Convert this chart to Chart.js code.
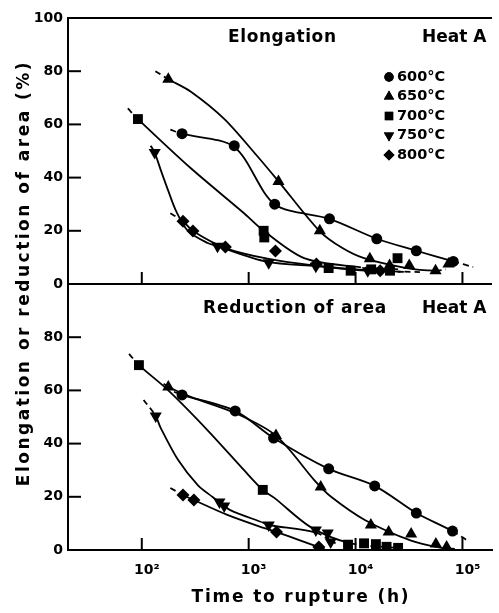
<!DOCTYPE html>
<html>
<head>
<meta charset="utf-8">
<script src="https://cdn.jsdelivr.net/npm/chart.js"></script>
<style>
  html, body { margin: 0; padding: 0; background: #fff; }
  canvas { display: block; }
</style>
</head>
<body>
<canvas id="ruptureChart" width="499" height="613"></canvas>
<script>
// temperatures (legend order)
const temps = ['600°C', '650°C', '700°C', '750°C', '800°C'];

// x axis ticks (time to rupture, h)
const xTicks = [100, 1000, 10000, 100000];
const xTickText = ['10²', '10³', '10⁴', '10⁵'];

// ---- Elongation (%) : measured points [hours, %]
const elong600 = [[238, 56.5], [733, 52], [1750, 30], [5700, 24.5], [15800, 17], [37000, 12.5], [82000, 8.5]];
const elong650 = [[177, 77], [1900, 38.5], [4630, 20], [13600, 9.5], [20800, 7], [31800, 7], [56000, 5], [74000, 7.5]];
const elong700 = [[92, 62], [1380, 20], [1400, 17.5], [5600, 6], [9000, 5], [14000, 5.5], [21000, 5], [24700, 9.7]];
const elong750 = [[132, 49.4], [511, 14.2], [1540, 8], [4250, 6.7], [13000, 5]];
const elong800 = [[243, 23.6], [301, 19.9], [605, 13.9], [1780, 12.4], [4300, 7.5], [17000, 5]];

// ---- Elongation : fitted curves
const elongFit600 = [[185, 58], [238, 56.5], [733, 51.5], [1750, 30], [5700, 24.5], [15800, 17], [37000, 12.5], [82000, 8.5], [126000, 6.4]];
const elongFit650 = [[134, 80], [177, 77], [288, 72.3], [593, 62], [1190, 48.3], [1900, 38.6], [4630, 19.8], [7540, 13.5], [12000, 9.7], [30000, 6], [56000, 5], [70000, 5.5]];
const elongFit700 = [[74, 66], [92, 62], [288, 43.5], [905, 26.6], [1380, 20], [3300, 9.7], [9900, 6.5], [25000, 5.5]];
const elongFit750 = [[121, 52], [132, 49.4], [150, 43], [177, 35], [210, 27.3], [270, 20], [413, 15.4], [511, 14.2], [1470, 8.4], [4250, 6.7], [13000, 5], [30000, 4.5]];
const elongFit800 = [[185, 26.6], [243, 23.6], [301, 19.9], [605, 13.5], [1500, 9.5], [4000, 7], [15000, 5], [40000, 4.5]];

// ---- Reduction of area (%) : measured points
const ra600 = [[238, 58.3], [748, 52.3], [1710, 42.1], [5600, 30.5], [15100, 24.1], [37000, 13.9], [80700, 7.1]];
const ra650 = [[177, 61.3], [1800, 43], [4720, 23.7], [13900, 9.4], [20400, 6.8], [33100, 6], [56400, 2.3], [71100, 1.1]];
const ra700 = [[94, 69.5], [1355, 22.6], [8500, 2], [12000, 2.5], [15500, 2.2], [19500, 1.2], [25000, 0.8]];
const ra750 = [[135, 50.4], [533, 18], [590, 16.5], [1540, 9.4], [4250, 7.5], [5490, 6.4], [5850, 3]];
const ra800 = [[243, 20.7], [307, 18.8], [1820, 6.8], [4530, 1.1]];

// ---- Reduction of area : fitted curves
const raFit600 = [[200, 59.5], [238, 58.3], [748, 52.3], [1710, 42.1], [5600, 30.5], [15100, 24.1], [37000, 13.9], [80700, 7.1], [109000, 3.8]];
const raFit650 = [[160, 62.5], [177, 61.3], [290, 57.5], [748, 51.5], [1800, 43], [4250, 25.6], [5900, 20], [12200, 11.3], [33100, 3.5], [60000, 1], [90000, 0.3]];
const raFit700 = [[76, 73.7], [94, 69.5], [177, 60], [413, 45], [905, 30], [1355, 22.6], [1750, 19.5], [3800, 8.6], [9000, 2.5], [25000, 0.8]];
const raFit750 = [[104, 56.4], [135, 50.4], [149, 46.2], [219, 33.8], [334, 24.4], [460, 19.9], [533, 18], [673, 15], [1380, 10.2], [1540, 9.4], [4250, 6.5], [6500, 2.5]];
const raFit800 = [[185, 23.3], [243, 20.7], [307, 18.8], [632, 13.2], [1380, 8.3], [1820, 6.8], [4530, 1.1], [5500, 0.3]];

const elongPts = [elong600, elong650, elong700, elong750, elong800];
const elongFits = [elongFit600, elongFit650, elongFit700, elongFit750, elongFit800];
const raPts = [ra600, ra650, ra700, ra750, ra800];
const raFits = [raFit600, raFit650, raFit700, raFit750, raFit800];

// marker looks per temperature
const markers = [
    { pointStyle: 'circle', radius: 5.5, rotation: 0 },
    { pointStyle: 'triangle', radius: 7, rotation: 0 },
    { pointStyle: 'rect', radius: 7, rotation: 0 },
    { pointStyle: 'triangle', radius: 7, rotation: 180 },
    { pointStyle: 'rectRot', radius: 6.5, rotation: 0 }
];

// top panel sits on the 100..200 part of the y scale
const TOP = 100;
const toXY = (pairs, off) => pairs.map(p => ({ x: p[0], y: p[1] + off }));

function curveSet(pairs, off) {
    const last = pairs.length - 2;
    return {
        data: toXY(pairs, off),
        showLine: true,
        borderColor: '#000',
        borderWidth: 1.8,
        pointRadius: 0,
        tension: 0.3,
        segment: {
            borderDash: ctx => (ctx.p0DataIndex === 0 || ctx.p0DataIndex === last) ? [6, 4] : undefined
        },
        order: 2
    };
}

function markerSet(pairs, off, i) {
    return {
        label: temps[i],
        data: toXY(pairs, off),
        showLine: false,
        pointStyle: markers[i].pointStyle,
        pointRadius: markers[i].radius,
        pointRotation: markers[i].rotation,
        pointBackgroundColor: '#000',
        pointBorderColor: '#000',
        pointBorderWidth: 0,
        order: 1
    };
}

const datasets = [];
temps.forEach((t, i) => {
    datasets.push(curveSet(elongFits[i], TOP));
    datasets.push(curveSet(raFits[i], 0));
});
temps.forEach((t, i) => {
    datasets.push(markerSet(elongPts[i], TOP, i));
    datasets.push(markerSet(raPts[i], 0, i));
});

const FONT = 'DejaVu Sans';

//plugins
const paperText = {
    id: 'paperText',
    afterDraw(chart) {
        const { ctx, chartArea: { left }, scales: { x, y } } = chart;
        ctx.save();
        ctx.strokeStyle = '#000';
        ctx.fillStyle = '#000';
        ctx.lineWidth = 2;

        // inward ticks
        for (let v = 0; v <= 200; v += 20) {
            const py = y.getPixelForValue(v);
            ctx.beginPath();
            ctx.moveTo(left, py);
            ctx.lineTo(left + 13, py);
            ctx.stroke();
        }
        xTicks.forEach(v => {
            const px = x.getPixelForValue(v);
            [0, TOP].forEach(b => {
                const py = y.getPixelForValue(b);
                ctx.beginPath();
                ctx.moveTo(px, py);
                ctx.lineTo(px, py - 12);
                ctx.stroke();
            });
        });

        // panel headings
        ctx.textBaseline = 'middle';
        ctx.textAlign = 'left';
        ctx.font = 'bold 17px "' + FONT + '"';
        ctx.letterSpacing = '0.6px';
        ctx.fillText('Elongation', 228, 38);
        ctx.letterSpacing = '0.8px';
        ctx.fillText('Reduction of area', 203, 309);
        ctx.letterSpacing = '0px';
        ctx.fillText('Heat A', 422, 38);
        ctx.fillText('Heat A', 422, 309);

        // legend
        ctx.font = 'bold 14.5px "' + FONT + '"';
        temps.forEach((t, i) => {
            const ly = 77 + i * 19.5;
            Chart.helpers.drawPoint(ctx, {
                pointStyle: markers[i].pointStyle,
                radius: markers[i].radius * 0.85,
                rotation: markers[i].rotation,
                borderWidth: 0
            }, 389, ly);
            ctx.fill();
            ctx.fillText(t, 397, ly);
        });

        // axis titles
        ctx.font = 'bold 17px "' + FONT + '"';
        ctx.textAlign = 'center';
        ctx.letterSpacing = '1.8px';
        ctx.fillText('Time to rupture (h)', 301, 598);
        ctx.save();
        ctx.translate(25, 273);
        ctx.rotate(-Math.PI / 2);
        ctx.letterSpacing = '2.5px';
        ctx.fillText('Elongation or reduction of area (%)', 0, 0);
        ctx.restore();
        ctx.restore();
    }
};

// config
const config = {
    type: 'scatter',
    data: { datasets: datasets },
    options: {
        responsive: false,
        animation: false,
        layout: {
            padding: { top: 18, right: 0, left: 0, bottom: 0 }
        },
        plugins: {
            legend: { display: false },
            tooltip: { enabled: false }
        },
        scales: {
            x: {
                type: 'logarithmic',
                min: 20.4,
                max: 189000,
                afterBuildTicks: scale => {
                    scale.ticks = xTicks.map(v => ({ value: v }));
                },
                afterFit: scale => { scale.height = 63; },
                grid: { display: false, drawTicks: false },
                border: { display: true, color: '#000', width: 2 },
                ticks: {
                    autoSkip: false,
                    maxRotation: 0,
                    padding: 12,
                    labelOffset: 5,
                    color: '#000',
                    font: { family: FONT, size: 14, weight: 'bold' },
                    callback: (value) => xTickText[xTicks.indexOf(value)] || ''
                }
            },
            y: {
                min: 0,
                max: 200,
                afterFit: scale => { scale.width = 68; },
                grid: {
                    drawTicks: false,
                    lineWidth: 2,
                    color: ctx => (ctx.tick && (ctx.tick.value === TOP || ctx.tick.value === 200)) ? '#000' : 'rgba(0,0,0,0)'
                },
                border: { display: true, color: '#000', width: 2 },
                ticks: {
                    stepSize: 20,
                    padding: 5,
                    color: '#000',
                    font: { family: FONT, size: 14, weight: 'bold' },
                    callback: (v) => String(v >= TOP ? v - TOP : v)
                }
            }
        }
    },
    plugins: [paperText]
};

new Chart('ruptureChart', config);
</script>
</body>
</html>
